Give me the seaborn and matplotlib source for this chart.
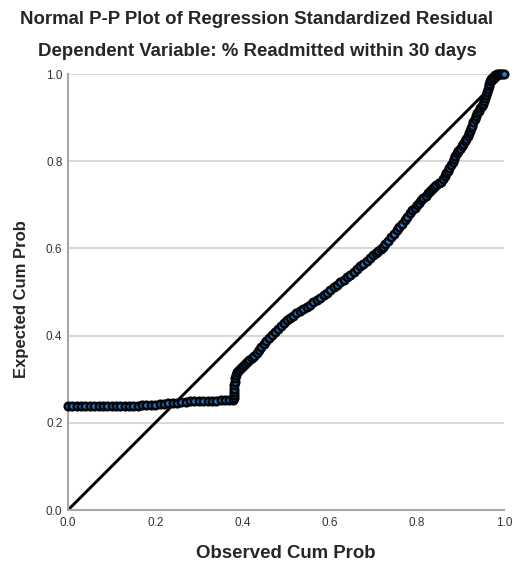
import matplotlib
matplotlib.use("Agg")
import matplotlib.pyplot as plt
import seaborn as sns
import pandas as pd

# values, in three stretches
flat_obs = [
    0.00, 0.01, 0.02, 0.03, 0.04, 0.05, 0.06, 0.07, 0.08, 0.09,
    0.10, 0.11, 0.12, 0.13, 0.14, 0.15, 0.16, 0.17, 0.18, 0.19,
    0.20, 0.21, 0.22, 0.23, 0.24, 0.25, 0.26, 0.27, 0.28, 0.29,
    0.30, 0.31, 0.32, 0.33, 0.34, 0.35, 0.36, 0.37, 0.378,
]
flat_exp = [
    0.238, 0.238, 0.238, 0.238, 0.238, 0.238, 0.238, 0.238, 0.238, 0.238,
    0.238, 0.239, 0.239, 0.239, 0.239, 0.239, 0.239, 0.240, 0.240, 0.241,
    0.242, 0.243, 0.244, 0.245, 0.245, 0.246, 0.247, 0.248, 0.249, 0.249,
    0.250, 0.250, 0.251, 0.251, 0.251, 0.252, 0.252, 0.252, 0.252,
]
jump_obs = [0.380, 0.380, 0.380, 0.381, 0.381, 0.382, 0.383, 0.385]
jump_exp = [0.256, 0.263, 0.270, 0.278, 0.286, 0.294, 0.302, 0.310]
curve_obs = [
    0.388, 0.393, 0.397, 0.401, 0.406, 0.411, 0.416, 0.421, 0.427, 0.433,
    0.438, 0.443, 0.449, 0.455, 0.461, 0.467, 0.474, 0.481, 0.488, 0.495,
    0.502, 0.509, 0.516, 0.523, 0.531, 0.539, 0.548, 0.555, 0.563, 0.571,
    0.579, 0.587, 0.594, 0.602, 0.610, 0.617, 0.625, 0.632, 0.640, 0.647,
    0.655, 0.662, 0.670, 0.677, 0.685, 0.692, 0.700, 0.706, 0.712, 0.717,
    0.722, 0.728, 0.735, 0.741, 0.748, 0.754, 0.760, 0.766, 0.772, 0.778,
    0.784, 0.790, 0.795, 0.800, 0.805, 0.810, 0.815, 0.820, 0.825, 0.830,
    0.835, 0.840, 0.845, 0.850, 0.855, 0.860, 0.864, 0.868, 0.872, 0.875,
    0.879, 0.882, 0.885, 0.888, 0.892, 0.895, 0.899, 0.903, 0.907, 0.911,
    0.914, 0.917, 0.920, 0.922, 0.925, 0.927, 0.930, 0.933, 0.936, 0.938,
    0.942, 0.945, 0.949, 0.952, 0.955, 0.957, 0.959, 0.961, 0.963, 0.965,
    0.966, 0.968, 0.971, 0.975, 0.980, 0.984, 0.988, 0.992, 0.996, 1.000,
]
curve_exp = [
    0.316, 0.322, 0.326, 0.330, 0.334, 0.339, 0.343, 0.348, 0.354, 0.360,
    0.366, 0.373, 0.380, 0.387, 0.394, 0.401, 0.408, 0.415, 0.422, 0.429,
    0.436, 0.441, 0.446, 0.451, 0.456, 0.461, 0.466, 0.471, 0.476, 0.482,
    0.487, 0.493, 0.498, 0.504, 0.511, 0.516, 0.522, 0.528, 0.534, 0.540,
    0.546, 0.553, 0.559, 0.565, 0.571, 0.577, 0.584, 0.589, 0.594, 0.598,
    0.603, 0.610, 0.618, 0.626, 0.634, 0.642, 0.650, 0.657, 0.665, 0.673,
    0.681, 0.687, 0.693, 0.699, 0.705, 0.711, 0.716, 0.721, 0.727, 0.731,
    0.736, 0.741, 0.745, 0.749, 0.753, 0.759, 0.765, 0.772, 0.778, 0.785,
    0.792, 0.799, 0.806, 0.812, 0.818, 0.823, 0.829, 0.834, 0.840, 0.846,
    0.852, 0.858, 0.864, 0.870, 0.876, 0.881, 0.889, 0.896, 0.904, 0.911,
    0.916, 0.921, 0.926, 0.931, 0.938, 0.945, 0.952, 0.958, 0.966, 0.972,
    0.976, 0.984, 0.989, 0.993, 0.997, 0.999, 1.000, 1.000, 1.000, 1.000,
]
diag = [0.0, 1.0]
ticks = [0.0, 0.2, 0.4, 0.6, 0.8, 1.0]

df = pd.DataFrame({
    "observed": flat_obs + jump_obs + curve_obs,
    "expected": flat_exp + jump_exp + curve_exp,
})

sns.set_style("white")
plt.rcParams["font.family"] = ["Liberation Sans", "DejaVu Sans"]

fig = plt.figure(figsize=(5.14, 5.65), dpi=100)
ax = fig.add_axes([0.1323, 0.0973, 0.8482, 0.7717])

for t in ticks[1:]:
    ax.axhline(t, color="#d4d4d4", lw=1.3, zorder=0)

ax.plot(diag, diag, color="black", lw=2.1, zorder=2)
sns.scatterplot(data=df, x="observed", y="expected", ax=ax, s=28,
                color="#2b7fd0", edgecolor="#03070c", linewidth=2.0,
                zorder=3, clip_on=False, legend=False)

ax.set_xlim(0, 1)
ax.set_ylim(0, 1)
ax.set_xticks(ticks)
ax.set_yticks(ticks)
ax.set_xticklabels([f"{t:.1f}" for t in ticks])
ax.set_yticklabels([f"{t:.1f}" for t in ticks])
ax.tick_params(length=0, labelsize=8.5, labelcolor="#333333")
ax.tick_params(axis="x", pad=5)
ax.tick_params(axis="y", pad=4)
for side in ["top", "right"]:
    ax.spines[side].set_visible(False)
for side in ["left", "bottom"]:
    ax.spines[side].set_color("#a8a8a8")
    ax.spines[side].set_linewidth(1.5)

ax.set_xlabel("")
ax.set_ylabel("")
fig.text(0.5, 1 - 20 / 565, "Normal P-P Plot of Regression Standardized Residual",
         ha="center", va="center", fontsize=13.4, fontweight="bold")
fig.text(0.5, 1 - 52 / 565, "Dependent Variable: % Readmitted within 30 days",
         ha="center", va="center", fontsize=13.4, fontweight="bold")
fig.text(286 / 514, 1 - 553 / 565, "Observed Cum Prob",
         ha="center", va="center", fontsize=13.4, fontweight="bold")
fig.text(22 / 514, 1 - 299 / 565, "Expected Cum Prob", rotation=90,
         ha="center", va="center", fontsize=12, fontweight="bold")

fig.savefig("out.png", dpi=100)
